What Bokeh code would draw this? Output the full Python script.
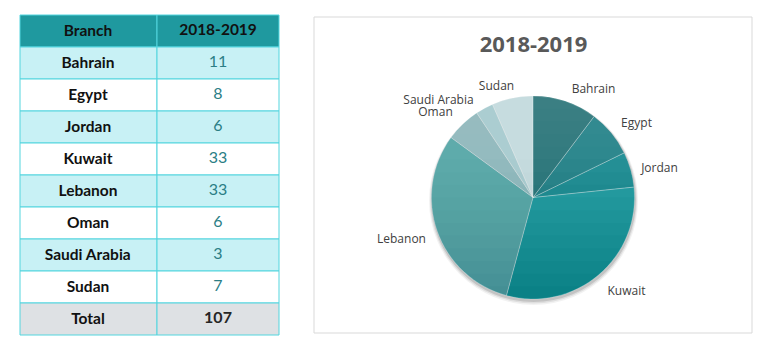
import numpy as np
from bokeh.plotting import figure
from bokeh.models import Range1d, ColumnDataSource
from bokeh.core.properties import value
from bokeh.embed import file_html
from bokeh.resources import INLINE

# ---------------- data ----------------
branches = ["Bahrain", "Egypt", "Jordan", "Kuwait", "Lebanon", "Oman", "Saudi Arabia", "Sudan"]
values = [11, 8, 6, 33, 33, 6, 3, 7]
header = ["Branch", "2018-2019"]
total_label = "Total"
title = "2018-2019"
slice_colors = ["#1d7074", "#187d83", "#11878d", "#16979c", "#4fa5aa", "#89bbbf", "#a8cdd1", "#c6dcdf"]

W, H = 774, 355
def Y(sy):
    return H - sy

p = figure(width=W, height=H, x_range=Range1d(0, W), y_range=Range1d(0, H),
           x_axis_type=None, y_axis_type=None, min_border=0,
           outline_line_color=None, toolbar_location=None, output_backend="svg",
           background_fill_color="white", border_fill_color="white")
p.xgrid.visible = False
p.ygrid.visible = False

# ---------------- table ----------------
tl, tdiv, tr = 19.5, 156.5, 278.5
top0, rowh = 14.5, 32.0
nrows = len(branches) + 2
row_tops = [top0 + i * rowh for i in range(nrows)]
row_fills = []
for i in range(nrows):
    if i == 0:
        row_fills.append("#1f999f")
    elif i == nrows - 1:
        row_fills.append("#dee1e4")
    elif i % 2 == 1:
        row_fills.append("#c8f1f5")
    else:
        row_fills.append("#ffffff")

cells = ColumnDataSource(dict(
    left=[tl] * nrows + [tdiv] * nrows,
    right=[tdiv] * nrows + [tr] * nrows,
    top=[Y(t) for t in row_tops] * 2,
    bottom=[Y(t + rowh) for t in row_tops] * 2,
    fill=row_fills * 2,
))
p.quad(left="left", right="right", top="top", bottom="bottom", fill_color="fill",
       line_color="#52d5de", line_width=1, source=cells)

cx0, cx1 = (tl + tdiv) / 2 - 0.5, (tdiv + tr) / 2
centers = [Y(t + rowh / 2 - 1.5) for t in row_tops]
total = sum(values)

# header
p.text(x=[cx0, cx1], y=[centers[0]] * 2, text=header, text_align="center", text_baseline="middle",
       text_font=value("Lato"), text_font_style="bold", text_font_size="15.5px", text_color="#111111")
# branch names + total label
p.text(x=[cx0] * (nrows - 1), y=centers[1:], text=branches + [total_label], text_align="center",
       text_baseline="middle", text_font=value("Lato"), text_font_style="bold",
       text_font_size="15.5px", text_color="#111111")
# values
p.text(x=[cx1] * len(values), y=centers[1:-1], text=[str(v) for v in values], text_align="center",
       text_baseline="middle", text_font=value("Lato"), text_font_size="16px", text_color="#2b7e85")
p.text(x=[cx1], y=[centers[-1]], text=[str(total)], text_align="center", text_baseline="middle",
       text_font=value("Lato"), text_font_style="bold", text_font_size="16px", text_color="#262626")

# ---------------- chart box ----------------
p.quad(left=[313.5], right=[751.5], top=[Y(16.5)], bottom=[Y(332.5)], fill_color=None,
       line_color="#d9d9d9", line_width=1)
p.text(x=[533], y=[Y(43.5)], text=[title], text_align="center", text_baseline="middle",
       text_font=value("Open Sans"), text_font_style="bold", text_font_size="22px", text_color="#595959")

# ---------------- pie ----------------
pcx, pcy, r = 532.5, Y(197), 101.5
# shadow
for dr, dy, a in [(3, 3, 0.05), (2, 2.5, 0.08), (1, 2, 0.12)]:
    p.circle(x=[pcx + 0.5], y=[pcy - dy], radius=r + dr, fill_color="#000000", fill_alpha=a, line_color=None)

vals = np.array(values, dtype=float)
cum = np.concatenate([[0], np.cumsum(vals)]) / vals.sum()
starts = np.pi / 2 - 2 * np.pi * cum[:-1]
ends = np.pi / 2 - 2 * np.pi * cum[1:]
pie = ColumnDataSource(dict(start=starts, end=ends, color=slice_colors))
p.wedge(x=pcx, y=pcy, radius=r, start_angle="start", end_angle="end", direction="clock",
        fill_color="color", line_color=None, source=pie)

# vertical gradient overlay (lighter at top, darker at bottom)
def segment(y_cut, above=True, n=80):
    h = y_cut - pcy
    phi = np.arcsin(np.clip(h / r, -1, 1))
    if above:
        th = np.linspace(phi, np.pi - phi, n)
    else:
        th = np.linspace(np.pi - phi, 2 * np.pi + phi, n)
    return list(pcx + r * np.cos(th)), list(pcy + r * np.sin(th))

xs, ys = [], []
for k in range(1, 16):
    yc = pcy + r - k * (r / 8.0)
    a, b = segment(yc, above=True)
    xs.append(a); ys.append(b)
p.patches(xs=xs, ys=ys, fill_color="white", fill_alpha=0.011, line_color=None)
xs, ys = [], []
for k in range(1, 12):
    yc = pcy - r + k * (r / 8.0)
    a, b = segment(yc, above=False)
    xs.append(a); ys.append(b)
p.patches(xs=xs, ys=ys, fill_color="black", fill_alpha=0.006, line_color=None)

# slice separators
p.wedge(x=pcx, y=pcy, radius=r, start_angle="start", end_angle="end", direction="clock",
        fill_color=None, line_color="white", line_alpha=0.25, line_width=0.8, source=pie)

# labels
label_x = [593, 636, 659, 626, 401, 435, 438, 496]
label_y = [88, 122, 167, 290, 238, 111, 99, 85]
p.text(x=label_x, y=[Y(v) for v in label_y], text=branches, text_align="center", text_baseline="middle",
       text_font=value("Open Sans"), text_font_size="12px", text_color="#404040")

open("out.html", "w").write(file_html(p, INLINE))
